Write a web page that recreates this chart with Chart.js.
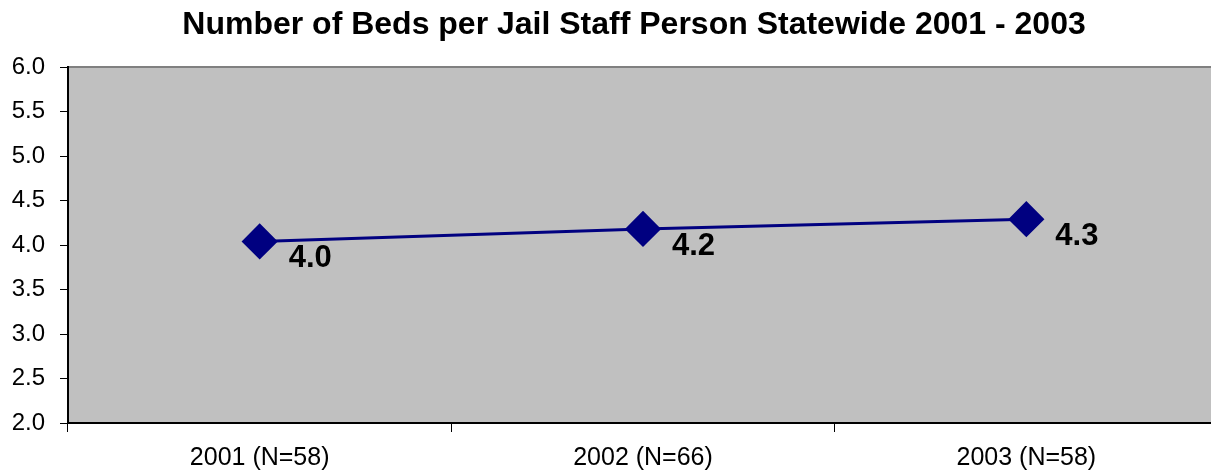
<!DOCTYPE html>
<html>
<head>
<meta charset="utf-8">
<script src="https://cdn.jsdelivr.net/npm/chart.js@4.4.0/dist/chart.umd.min.js"></script>
<style>
  html,body{margin:0;padding:0;background:#fff;overflow:hidden;}
  canvas{display:block;}
</style>
</head>
<body>
<canvas id="c" width="1220" height="474"></canvas>
<script>
'use strict';

// ── DATA ─────────────────────────────────────────────────
const title = 'Number of Beds per Jail Staff Person Statewide 2001 - 2003';
const categories = ['2001 (N=58)', '2002 (N=66)', '2003 (N=58)'];
const bedsPerStaff = [4.04, 4.18, 4.29];
const pointLabels = ['4.0', '4.2', '4.3'];
const yTicks = [2.0, 2.5, 3.0, 3.5, 4.0, 4.5, 5.0, 5.5, 6.0];

const FONT = "'Liberation Sans', Arial, sans-serif";

// plot background + top border + title + point labels
const frame = {
  id: 'frame',
  beforeDraw(chart){
    const {ctx, chartArea:a} = chart;
    ctx.save();
    ctx.fillStyle = '#c0c0c0';
    ctx.fillRect(a.left, a.top, a.right - a.left, a.bottom - a.top);
    ctx.strokeStyle = '#808080';
    ctx.lineWidth = 2;
    ctx.beginPath();
    ctx.moveTo(a.left, a.top);
    ctx.lineTo(a.right, a.top);
    ctx.stroke();
    ctx.font = 'bold 32px ' + FONT;
    ctx.fillStyle = '#000';
    ctx.textAlign = 'center';
    ctx.textBaseline = 'middle';
    ctx.fillText(title, 634, 25);
    ctx.restore();
  },
  afterDatasetsDraw(chart){
    const {ctx} = chart;
    const meta = chart.getDatasetMeta(0);
    ctx.save();
    ctx.font = 'bold 31px ' + FONT;
    ctx.fillStyle = '#000';
    ctx.textAlign = 'left';
    ctx.textBaseline = 'middle';
    meta.data.forEach((pt, i) => {
      ctx.fillText(pointLabels[i], pt.x + 29, pt.y + 17);
    });
    ctx.restore();
  }
};

new Chart(document.getElementById('c'), {
  type: 'line',
  data: {
    labels: categories,
    datasets: [{
      data: bedsPerStaff,
      borderColor: '#000080',
      backgroundColor: '#000080',
      borderWidth: 3,
      pointStyle: 'rectRot',
      pointRadius: 16,
      pointHoverRadius: 16,
      tension: 0
    }]
  },
  options: {
    responsive: false,
    animation: false,
    layout: { autoPadding: false, padding: { top: 67, left: 0, right: 2, bottom: 0 } },
    plugins: { legend: { display: false }, tooltip: { enabled: false } },
    scales: {
      x: {
        type: 'category',
        offset: true,
        afterFit: s => { s.height = 51; },
        border: { display: true, color: '#000', width: 2 },
        grid: { offset: true, drawOnChartArea: false, drawTicks: true, tickLength: 9, color: '#000', lineWidth: 1 },
        ticks: { color: '#000', font: { family: FONT, size: 25 }, padding: 11, maxRotation: 0 }
      },
      y: {
        min: 2, max: 6,
        afterFit: s => { s.width = 68; },
        afterBuildTicks: s => { s.ticks = yTicks.map(v => ({ value: v })); },
        border: { display: true, color: '#000', width: 2 },
        grid: { drawOnChartArea: false, drawTicks: true, tickLength: 8, color: '#000', lineWidth: 1 },
        ticks: { color: '#000', font: { family: FONT, size: 24 }, padding: 15, callback: v => v.toFixed(1) }
      }
    }
  },
  plugins: [frame]
});
</script>
</body>
</html>
